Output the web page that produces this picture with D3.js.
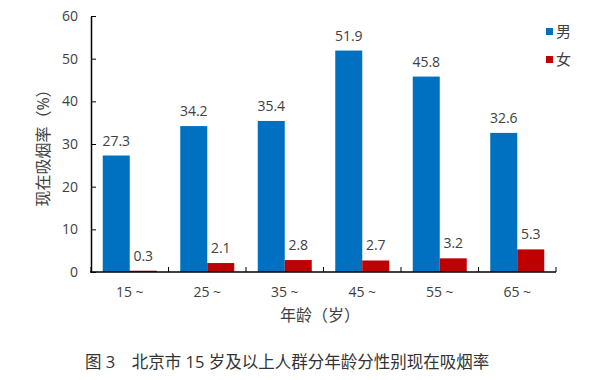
<!DOCTYPE html>
<html><head><meta charset="utf-8">
<script src="https://cdn.jsdelivr.net/npm/d3@7/dist/d3.min.js"></script>
<style>body{margin:0;background:#fff}text{font-family:"Open Sans","Noto Sans CJK SC",sans-serif}</style>
</head><body><svg id="c" width="600" height="380"></svg>
<script>
const categories = ["15 ~","25 ~","35 ~","45 ~","55 ~","65 ~"];
const male = [27.3,34.2,35.4,51.9,45.8,32.6];
const female = [0.3,2.1,2.8,2.7,3.2,5.3];
const seriesNames = ["男","女"];
const yTicks = [0,10,20,30,40,50,60];

const svg = d3.select("#c");
const colors = ["#0070C0","#C00000"];
const x = d3.scaleBand().domain(categories).range([91,556]).paddingInner(0).paddingOuter(0);
const y = d3.scaleLinear().domain([0,60]).range([272,16]);
const barW = 27;
const sub = d3.scaleBand().domain([0,1]).range([0,barW*2]);

// y axis (inward ticks)
const ya = svg.append("g").attr("transform","translate(91,0)")
  .call(d3.axisLeft(y).tickValues(yTicks).tickSize(-5).tickPadding(13).tickSizeOuter(0));
ya.select(".domain").attr("stroke","#000").attr("stroke-width",1.5);
ya.selectAll(".tick line").attr("stroke","#000");
ya.selectAll("text").attr("font-size",14).attr("fill","#404040");

// bars
const data = [male,female];
data.forEach((arr,si)=>{
  svg.append("g").selectAll("rect").data(arr).join("rect")
    .attr("x",(d,i)=>x(categories[i])+(x.bandwidth()-barW*2)/2+sub(si))
    .attr("width",barW)
    .attr("y",d=>y(d)).attr("height",d=>y(0)-y(d))
    .attr("fill",colors[si]);
  svg.append("g").selectAll("text").data(arr).join("text")
    .attr("x",(d,i)=>x(categories[i])+(x.bandwidth()-barW*2)/2+sub(si)+barW/2)
    .attr("y",d=>y(d)-10)
    .attr("text-anchor","middle").attr("font-size",14).attr("fill","#404040")
    .text(d=>d.toFixed(1));
});

// x axis
const xa = svg.append("g").attr("transform","translate(0,272)");
const bounds = categories.map(c=>x(c)).concat([x.range()[1]]);
xa.selectAll("line.t").data(bounds).join("line").attr("class","t")
  .attr("x1",d=>d).attr("x2",d=>d).attr("y1",0).attr("y2",-5).attr("stroke","#000");
xa.append("line").attr("x1",90).attr("x2",556).attr("stroke","#000").attr("stroke-width",1.5);
xa.selectAll("text").data(categories).join("text")
  .attr("x",d=>x(d)+x.bandwidth()/2).attr("y",25)
  .attr("text-anchor","middle").attr("font-size",14).attr("fill","#404040").text(d=>d);

// axis titles
svg.append("text").attr("x",320).attr("y",321).attr("text-anchor","middle")
  .attr("font-size",16).attr("fill","#404040").text("年龄（岁）");
svg.append("text").attr("transform","translate(49,144) rotate(-90)").attr("text-anchor","middle")
  .attr("font-size",16).attr("fill","#404040").text("现在吸烟率（%）");

// legend
seriesNames.forEach((n,i)=>{
  svg.append("rect").attr("x",546).attr("y",28+i*28).attr("width",7).attr("height",7).attr("fill",colors[i]);
  svg.append("text").attr("x",556).attr("y",37+i*28).attr("font-size",15).attr("fill","#404040").text(n);
});

// caption
svg.append("text").attr("x",85).attr("y",368).attr("font-size",16.5).attr("fill","#333")
  .attr("font-family","Noto Sans CJK SC").text("图 3　北京市 15 岁及以上人群分年龄分性别现在吸烟率");
</script></body></html>
